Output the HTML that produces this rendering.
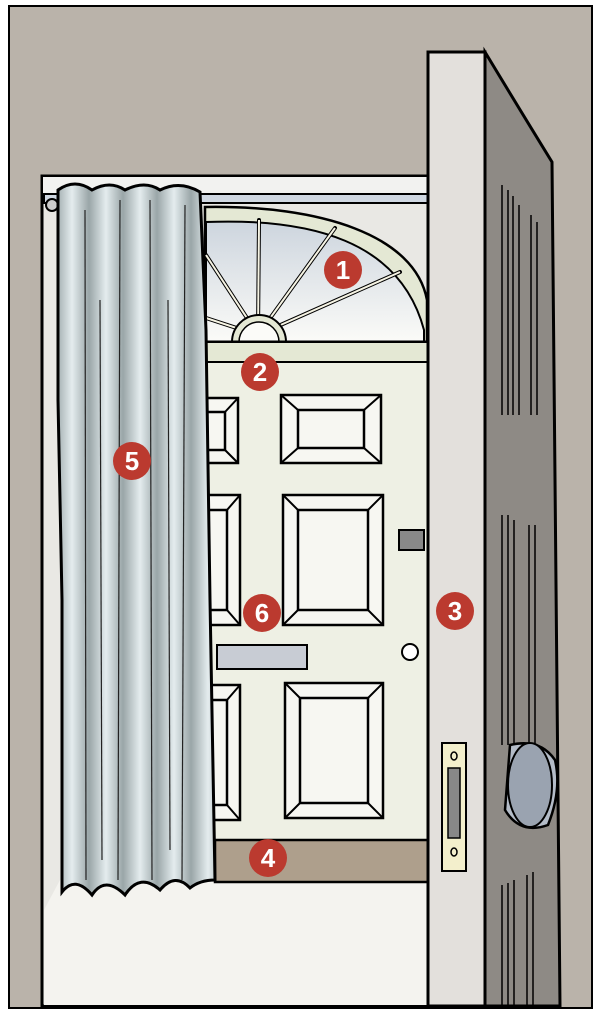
<!DOCTYPE html>
<html><head><style>html,body{margin:0;padding:0;background:#fff}svg{display:block}</style></head>
<body>
<svg width="602" height="1018" viewBox="0 0 602 1018" xmlns="http://www.w3.org/2000/svg" font-family="Liberation Sans, sans-serif">
<defs>
<linearGradient id="cur" x1="0" x2="1" y1="0" y2="0">
<stop offset="0" stop-color="#9aa6a8"/><stop offset="0.5" stop-color="#e4ecee"/><stop offset="1" stop-color="#9aa6a8"/>
</linearGradient>
<pattern id="cp" width="34" height="10" patternUnits="userSpaceOnUse" x="55">
<rect width="34" height="10" fill="url(#cur)"/>
</pattern>
<linearGradient id="gl" x1="0" x2="0" y1="0" y2="1">
<stop offset="0" stop-color="#cdd5de"/><stop offset="1" stop-color="#fbfbf8"/>
</linearGradient>
</defs>
<rect x="9" y="6" width="583" height="1002" fill="#bab3aa" stroke="#000" stroke-width="2"/>
<rect x="42" y="176" width="390" height="830" fill="#e9e8e4" stroke="#000" stroke-width="3"/>
<rect x="42" y="176" width="390" height="18" fill="#f2f2f0" stroke="#000" stroke-width="2"/>
<rect x="44" y="194" width="386" height="9" fill="#d0d8e2" stroke="#000" stroke-width="2"/>
<polygon points="44,910 60,880 430,880 430,1005 44,1005" fill="#f4f3ef"/>
<!-- fanlight -->
<path d="M205,342 L205,207 C320,205 415,235 427,300 L427,342 Z" fill="#e4e8d4" stroke="#000" stroke-width="2.5"/>
<path d="M206,342 L206,222 C310,218 400,240 424,330 L424,342 Z" fill="url(#gl)" stroke="#000" stroke-width="2"/>
<g stroke="#000" stroke-width="4" fill="none" stroke-linecap="round">
<line x1="258" y1="335" x2="206" y2="318"/><line x1="258" y1="335" x2="206" y2="255"/>
<line x1="258" y1="335" x2="259" y2="220"/><line x1="258" y1="335" x2="335" y2="228"/>
<line x1="258" y1="335" x2="400" y2="272"/>
</g>
<g stroke="#f6f4e4" stroke-width="2" fill="none">
<line x1="258" y1="335" x2="206" y2="318"/><line x1="258" y1="335" x2="206" y2="255"/>
<line x1="258" y1="335" x2="259" y2="220"/><line x1="258" y1="335" x2="335" y2="228"/>
<line x1="258" y1="335" x2="400" y2="272"/>
</g>
<path d="M232,342 A27,27 0 0 1 286,342 Z" fill="#e4e8d4" stroke="#000" stroke-width="2"/>
<path d="M239,342 A20,20 0 0 1 279,342 Z" fill="#fbfbf8" stroke="#000" stroke-width="1.5"/>
<!-- door -->
<rect x="205" y="342" width="225" height="500" fill="#eef0e4" stroke="#000" stroke-width="3"/>
<rect x="205" y="342" width="225" height="20" fill="#e4e8d4" stroke="#000" stroke-width="2"/>
<g fill="#f7f7f2" stroke="#000" stroke-width="2.5">
<rect x="281" y="395" width="100" height="68"/><rect x="298" y="410" width="66" height="38"/>
<rect x="283" y="495" width="100" height="130"/><rect x="298" y="510" width="70" height="100"/>
<rect x="285" y="683" width="98" height="135"/><rect x="300" y="698" width="68" height="105"/>
<rect x="205" y="398" width="33" height="65"/><rect x="205" y="412" width="20" height="38"/>
<rect x="205" y="495" width="35" height="130"/><rect x="205" y="510" width="22" height="100"/>
<rect x="205" y="685" width="35" height="135"/><rect x="205" y="700" width="22" height="105"/>
</g>
<g stroke="#000" stroke-width="2">
<path d="M281,395 L298,410 M381,395 L364,410 M281,463 L298,448 M381,463 L364,448"/>
<path d="M283,495 L298,510 M383,495 L368,510 M283,625 L298,610 M383,625 L368,610"/>
<path d="M285,683 L300,698 M383,683 L368,698 M285,818 L300,803 M383,818 L368,803"/>
<path d="M238,398 L225,412 M238,463 L225,450 M240,495 L227,510 M240,625 L227,610 M240,685 L227,700 M240,820 L227,805"/>
</g>
<rect x="217" y="645" width="90" height="24" fill="#c8ccd4" stroke="#000" stroke-width="2"/>
<rect x="399" y="530" width="25" height="20" fill="#888" stroke="#000" stroke-width="2"/>
<circle cx="410" cy="652" r="8" fill="#fff" stroke="#000" stroke-width="2"/>
<rect x="215" y="840" width="215" height="42" fill="#ae9f8c" stroke="#000" stroke-width="2.5"/>
<!-- curtain -->
<circle cx="52" cy="205" r="6" fill="#ccc" stroke="#000" stroke-width="2"/>
<path d="M58,190 Q75,178 92,190 Q110,180 125,190 Q145,180 160,190 Q180,180 200,192 L206,330 L210,600 L215,880 Q200,880 190,888 Q175,872 160,890 Q140,872 125,895 Q105,875 92,895 Q75,875 62,892 L62,600 L58,400 Z" fill="url(#cp)" stroke="#000" stroke-width="3"/>
<g stroke="#222" stroke-width="1.2" fill="none">
<path d="M85,210 L86,880"/><path d="M120,200 L118,880"/><path d="M150,200 L152,880"/><path d="M185,205 L182,880"/><path d="M100,300 L102,860"/><path d="M168,300 L170,850"/>
</g>
<!-- open door -->
<rect x="428" y="52" width="57" height="954" fill="#e3e0dc" stroke="#000" stroke-width="3"/>
<path d="M485,52 Q520,110 552,162 L560,1006 L485,1006 Z" fill="#8e8a85" stroke="#000" stroke-width="3"/>
<g fill="none" stroke="#000" stroke-width="1.5">
<path d="M502,185 L502,415 M508,190 L508,415 M513,196 L513,415 M519,205 L519,415"/>
<path d="M531,215 L531,415 M537,222 L537,415"/>
<path d="M502,515 L502,745 M508,515 L508,745 M514,520 L514,745"/>
<path d="M529,525 L529,745 M535,525 L535,745"/>
<path d="M502,885 L502,1005 M508,883 L508,1005 M514,880 L514,1005"/>
<path d="M527,875 L527,1005 M533,872 L533,1005"/>
</g>
<path d="M510,745 Q540,738 555,760 Q562,790 548,825 Q520,835 505,810 Z" fill="#b4bcc8" stroke="#000" stroke-width="2.5"/>
<ellipse cx="530" cy="785" rx="22" ry="42" fill="#9aa3b0" stroke="#000" stroke-width="2"/>
<rect x="442" y="743" width="24" height="128" fill="#f3efcc" stroke="#000" stroke-width="2"/>
<rect x="448" y="768" width="12" height="70" fill="#888" stroke="#000" stroke-width="1.5"/>
<ellipse cx="454" cy="756" rx="3" ry="4" fill="none" stroke="#000" stroke-width="1.5"/>
<ellipse cx="454" cy="852" rx="3" ry="4" fill="none" stroke="#000" stroke-width="1.5"/>
<g fill="#bb3a2f"><circle cx="343" cy="270" r="19"/><circle cx="260" cy="372" r="19"/><circle cx="455" cy="611" r="19"/><circle cx="268" cy="858" r="19"/><circle cx="132" cy="461" r="19"/><circle cx="262" cy="613" r="19"/></g>
<g fill="#fff" font-size="26" font-weight="bold" text-anchor="middle">
<text x="343" y="279">1</text><text x="260" y="381">2</text><text x="455" y="620">3</text><text x="268" y="867">4</text><text x="132" y="470">5</text><text x="262" y="622">6</text>
</g>
</svg>
</body></html>
